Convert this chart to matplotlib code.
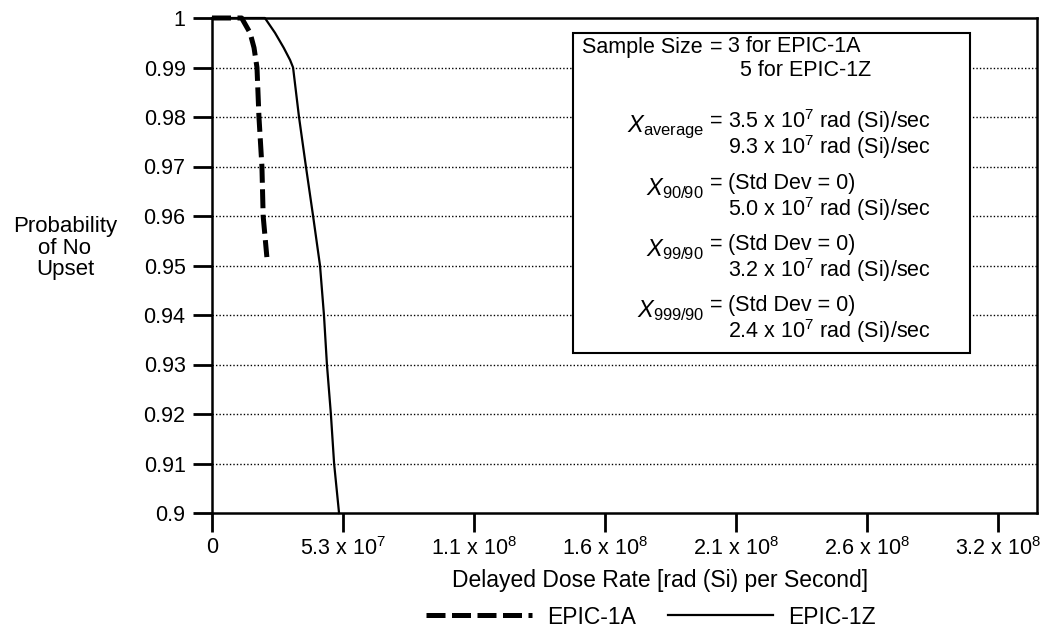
import numpy as np
import matplotlib
matplotlib.use("Agg")
import matplotlib.pyplot as plt
from matplotlib.patches import Rectangle
from matplotlib.lines import Line2D

plt.rcParams['font.family'] = ['Liberation Sans', 'DejaVu Sans']
plt.rcParams['mathtext.fontset'] = 'custom'
plt.rcParams['mathtext.rm'] = 'Liberation Sans'
plt.rcParams['mathtext.it'] = 'Liberation Sans:italic'

# datos
x_1a = [0, 0.6e7, 1.2e7, 1.54e7, 1.7e7, 1.82e7, 1.9e7, 2.02e7, 2.07e7, 2.22e7]
p_1a = [1.0, 1.0, 1.0, 0.997, 0.994, 0.99, 0.98, 0.97, 0.96, 0.9517]

x_1z = [0, 1.0e7, 2.14e7, 2.55e7, 2.9e7, 3.16e7, 3.28e7, 3.52e7, 3.8e7, 4.09e7,
        4.37e7, 4.53e7, 4.65e7, 4.81e7, 4.94e7, 5.14e7]
p_1z = [1.0, 1.0, 1.0, 0.997, 0.994, 0.9915, 0.99, 0.98, 0.97, 0.96,
        0.95, 0.94, 0.93, 0.92, 0.91, 0.90]

x_ticks = [0, 5.3e7, 1.06e8, 1.59e8, 2.12e8, 2.65e8, 3.18e8]
x_tick_labels = ["0", r"5.3 x 10$^7$", r"1.1 x 10$^8$", r"1.6 x 10$^8$",
                 r"2.1 x 10$^8$", r"2.6 x 10$^8$", r"3.2 x 10$^8$"]
y_ticks = [0.9, 0.91, 0.92, 0.93, 0.94, 0.95, 0.96, 0.97, 0.98, 0.99, 1.0]
y_tick_labels = ["0.9", "0.91", "0.92", "0.93", "0.94", "0.95", "0.96",
                 "0.97", "0.98", "0.99", "1"]

W, H = 1045, 637
def px(x, y):
    # pixeles -> fraccion de figura
    return x / W, 1 - y / H

fig = plt.figure(figsize=(W / 100, H / 100), dpi=100)
ax = fig.add_axes([212 / W, 1 - 513 / H, 825 / W, 495 / H])

dash = (3.8, 1.3)
ax.plot(x_1a, p_1a, color='black', lw=3.6, dashes=dash, label="EPIC-1A",
        dash_capstyle='butt', clip_on=False, zorder=3)
ax.plot(x_1z, p_1z, color='black', lw=1.6, label="EPIC-1Z", clip_on=False, zorder=3)

ax.set_xlim(0, 3.338e8)
ax.set_ylim(0.9, 1.0)
ax.set_xticks(x_ticks)
ax.set_xticklabels(x_tick_labels)
ax.set_yticks(y_ticks)
ax.set_yticklabels(y_tick_labels)
ax.tick_params(axis='both', direction='out', length=14, width=2, labelsize=15.5,
               colors='black')
ax.tick_params(axis='y', pad=5)
ax.tick_params(axis='x', pad=3)
for s in ax.spines.values():
    s.set_linewidth(1.8)

for yv in y_ticks[1:-1]:
    ax.axhline(yv, color='black', lw=1.0, ls=(0, (1, 1.5)), zorder=1)

# etiquetas de ejes
fig.text(*px(65, 248), "Probability\nof No\nUpset", ha='center', va='center',
         fontsize=16, linespacing=1.05)
fig.text(*px(660, 580), "Delayed Dose Rate [rad (Si) per Second]", ha='center',
         va='center', fontsize=16.5)

# cuadro con la descripcion
fig.add_artist(Rectangle(px(573, 353), 397 / W, 320 / H, transform=fig.transFigure,
                         facecolor='white', edgecolor='black', lw=1.5, zorder=2))

unit = r" x 10$^7$ rad (Si)/sec"
fs = 15.5
fig.text(*px(703, 47), "Sample Size", ha='right', va='center', fontsize=fs, zorder=3)
fig.text(*px(710, 47), "=", ha='left', va='center', fontsize=fs, zorder=3)
fig.text(*px(728, 47), "3 for EPIC-1A", ha='left', va='center', fontsize=fs, zorder=3)
fig.text(*px(740, 71), "5 for EPIC-1Z", ha='left', va='center', fontsize=fs, zorder=3)

groups = [
    (r"$\mathit{X}_{\mathrm{average}}$", "3.5" + unit, "9.3" + unit, 121),
    (r"$\mathit{X}_{\mathrm{90/90}}$", "(Std Dev = 0)", "5.0" + unit, 183),
    (r"$\mathit{X}_{\mathrm{99/90}}$", "(Std Dev = 0)", "3.2" + unit, 244),
    (r"$\mathit{X}_{\mathrm{999/90}}$", "(Std Dev = 0)", "2.4" + unit, 305),
]
for lab, v1, v2, y1 in groups:
    fig.text(*px(704, y1 + 6), lab, ha='right', va='center', fontsize=fs + 1.5, zorder=3)
    fig.text(*px(710, y1), "=", ha='left', va='center', fontsize=fs, zorder=3)
    fig.text(*px(728, y1), v1, ha='left', va='center', fontsize=fs, zorder=3)
    fig.text(*px(728, y1 + 26), v2, ha='left', va='center', fontsize=fs, zorder=3)

# leyenda abajo
handles = [Line2D([], [], color='black', lw=3.6, dashes=dash),
           Line2D([], [], color='black', lw=1.6)]
fig.legend(handles, ["EPIC-1A", "EPIC-1Z"], loc='center', bbox_to_anchor=px(651, 617),
           ncol=2, frameon=False, fontsize=16.5, handlelength=4.6, columnspacing=1.4,
           handletextpad=0.65)

fig.savefig("out.png", dpi=100)
